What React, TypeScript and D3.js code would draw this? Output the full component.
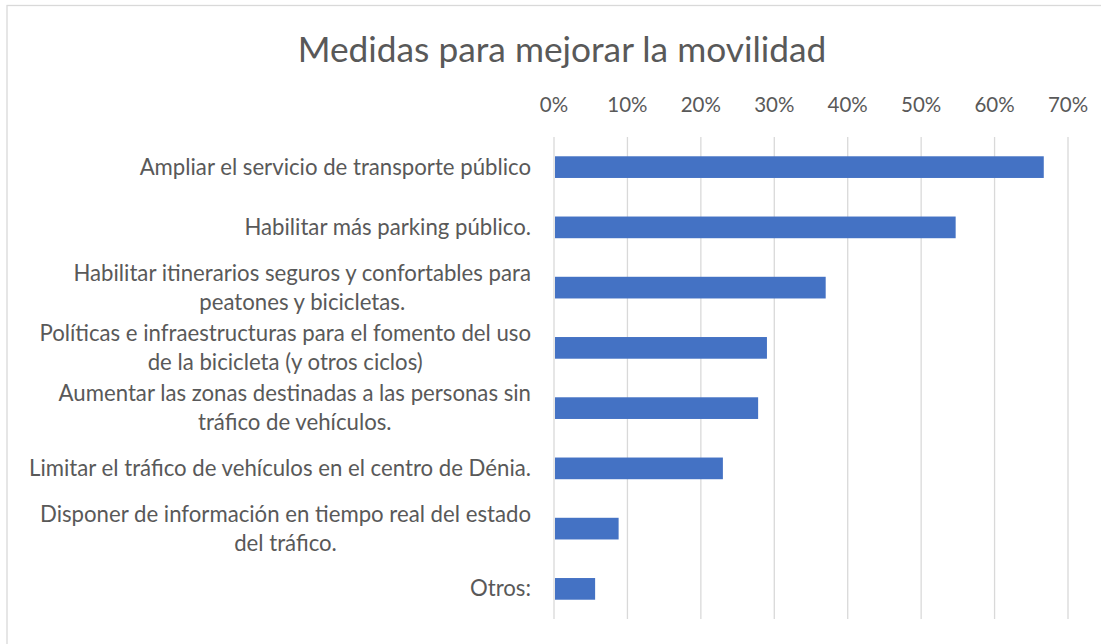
import React, { useEffect, useRef } from "react";
import * as d3 from "d3";

const categories: string[][] = [
  ["Ampliar el servicio de transporte público"],
  ["Habilitar más parking público."],
  ["Habilitar itinerarios seguros y confortables para", "peatones y bicicletas."],
  ["Políticas e infraestructuras para el fomento del uso", "de la bicicleta (y otros ciclos)"],
  ["Aumentar las zonas destinadas a las personas sin", "tráfico de vehículos."],
  ["Limitar el tráfico de vehículos en el centro de Dénia."],
  ["Disponer de información en tiempo real del estado", "del tráfico."],
  ["Otros:"],
];
const values: number[] = [0.667, 0.547, 0.37, 0.29, 0.278, 0.23, 0.088, 0.056];
const ticks: number[] = [0, 0.1, 0.2, 0.3, 0.4, 0.5, 0.6, 0.7];
const title = "Medidas para mejorar la movilidad";

const W = 1101;
const H = 644;
const FONT = "Lato, 'Open Sans', sans-serif";
const TEXT = "#595959";

export default function App() {
  const ref = useRef<SVGSVGElement | null>(null);

  useEffect(() => {
    const svg = d3.select(ref.current);
    svg.selectAll("*").remove();

    const x = d3.scaleLinear().domain([0, 0.7]).range([554, 1068]);
    const y = d3
      .scaleBand<number>()
      .domain(d3.range(categories.length))
      .range([137, 619])
      .paddingInner(0.64)
      .paddingOuter(0.32);

    svg.append("rect").attr("width", W).attr("height", H).attr("fill", "#fff");
    svg
      .append("rect")
      .attr("x", 7)
      .attr("y", 5.5)
      .attr("width", 1120)
      .attr("height", 700)
      .attr("fill", "none")
      .attr("stroke", "#d9d9d9")
      .attr("stroke-width", 1.3);

    svg
      .append("text")
      .attr("x", 562)
      .attr("y", 62)
      .attr("text-anchor", "middle")
      .attr("font-family", FONT)
      .attr("font-size", 35.3)
      .attr("fill", TEXT)
      .text(title);

    svg
      .append("g")
      .selectAll("line")
      .data(ticks)
      .join("line")
      .attr("x1", (d) => x(d))
      .attr("x2", (d) => x(d))
      .attr("y1", 137)
      .attr("y2", 619)
      .attr("stroke", "#d9d9d9")
      .attr("stroke-width", 1.3);

    svg
      .append("g")
      .selectAll("text")
      .data(ticks)
      .join("text")
      .attr("x", (d) => x(d))
      .attr("y", 112)
      .attr("text-anchor", "middle")
      .attr("font-family", FONT)
      .attr("font-size", 20.5)
      .attr("fill", TEXT)
      .text((d) => d3.format(".0%")(d));

    svg
      .append("g")
      .selectAll("rect")
      .data(values)
      .join("rect")
      .attr("x", x(0) + 1)
      .attr("y", (_, i) => y(i)!)
      .attr("width", (d) => x(d) - x(0) - 1)
      .attr("height", y.bandwidth())
      .attr("fill", "#4472C4");

    const lh = 29;
    const right = 531;
    const lg = svg.append("g");
    categories.forEach((lines, i) => {
      const cy = y(i)! + y.bandwidth() / 2;
      const texts = lines.map((ln) =>
        lg
          .append("text")
          .attr("font-family", FONT)
          .attr("font-size", 22.2)
          .attr("fill", TEXT)
          .attr("text-anchor", "middle")
          .text(ln)
      );
      const widths = texts.map((t) => (t.node() as SVGTextElement).getComputedTextLength());
      const bw = Math.max(...widths);
      const cx = right - bw / 2;
      const n = lines.length;
      texts.forEach((t, k) => {
        const ly = cy + (k - (n - 1) / 2) * lh + 7.5;
        t.attr("x", cx).attr("y", ly);
      });
    });
  }, []);

  return (
    <svg
      ref={ref}
      width={W}
      height={H}
      style={{ position: "absolute", left: 0, top: 0, display: "block" }}
    />
  );
}
